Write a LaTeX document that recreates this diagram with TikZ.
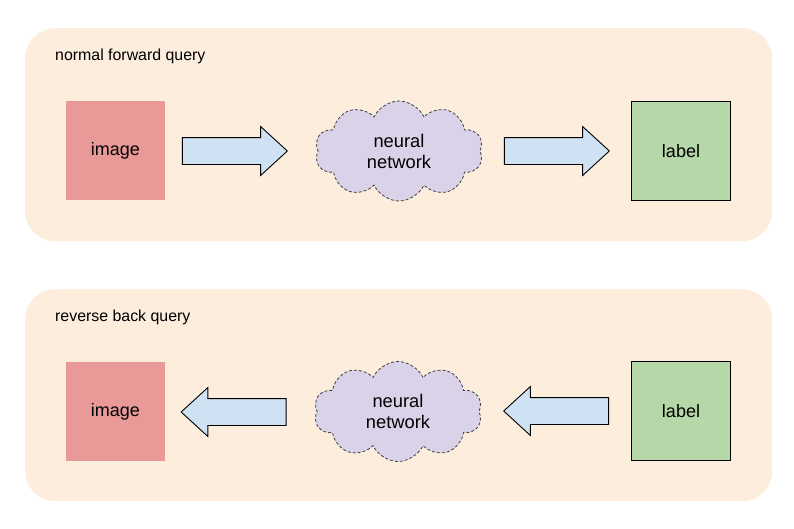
\documentclass[tikz,border=0pt]{standalone}
\usepackage{fontspec}
\setmainfont{Liberation Sans}
\usepackage{tikz}
\usetikzlibrary{positioning,shapes.symbols,shapes.arrows}
\definecolor{panelbg}{HTML}{FCEDDD}
\definecolor{imgfill}{HTML}{EA9999}
\definecolor{lblfill}{HTML}{B6D7A8}
\definecolor{netfill}{HTML}{D9D2E9}
\definecolor{arrfill}{HTML}{CFE2F3}
\tikzset{
	panel/.style={rectangle, fill=panelbg, rounded corners=30pt, anchor=north west, minimum width=747pt, minimum height=213pt},
	title/.style={anchor=west, inner sep=0, font=\fontsize{15.9}{18}\selectfont},
	imgbox/.style={rectangle, fill=imgfill, minimum width=99pt, minimum height=99pt, font=\fontsize{18}{21}\selectfont},
	lblbox/.style={rectangle, draw=black, line width=1pt, fill=lblfill, minimum width=99pt, minimum height=99pt, font=\fontsize{18}{21}\selectfont},
	net/.style={cloud, cloud puffs=10, cloud puff arc=130, aspect=1.7, draw=black!75, line width=0.8pt, dash pattern=on 3pt off 2pt, fill=netfill, minimum width=168pt, minimum height=100pt, inner sep=0, align=center, font=\fontsize{18.3}{21}\selectfont},
	blockarrow/.style={single arrow, draw=black, line width=0.9pt, fill=arrfill, inner xsep=0, inner ysep=13pt, single arrow head extend=11pt, single arrow tip angle=85, minimum height=105pt}
}
\begin{document}
\begin{tikzpicture}[x=1pt,y=-1pt]
		\useasboundingbox (0,0) rectangle (794,528);
		\node[panel] (top) at (25,28) {};
		\node[panel, minimum height=212pt] (bot) at (25,289) {};
		\node[title] (ttop) at (55,56) {normal forward query};
		\node[title] (tbot) at (55,317) {reverse back query};

		\node[imgbox] (img1) at (115.5,150.5) {image};
		\node[net] (net1) at (399,151) {neural\\network};
		\node[lblbox] (lbl1) at (681,151) {label};
		\node[blockarrow] (a1) at (227.5,151) {};
		\node[blockarrow] (a2) at (549.5,151) {};

		\node[imgbox] (img2) at (115.5,411.5) {image};
		\node[net] (net2) at (398,411.5) {neural\\network};
		\node[lblbox] (lbl2) at (681,411) {label};
		\node[blockarrow, shape border rotate=180] (a3) at (241,412) {};
		\node[blockarrow, shape border rotate=180] (a4) at (563.5,411) {};
	\end{tikzpicture}
\end{document}
